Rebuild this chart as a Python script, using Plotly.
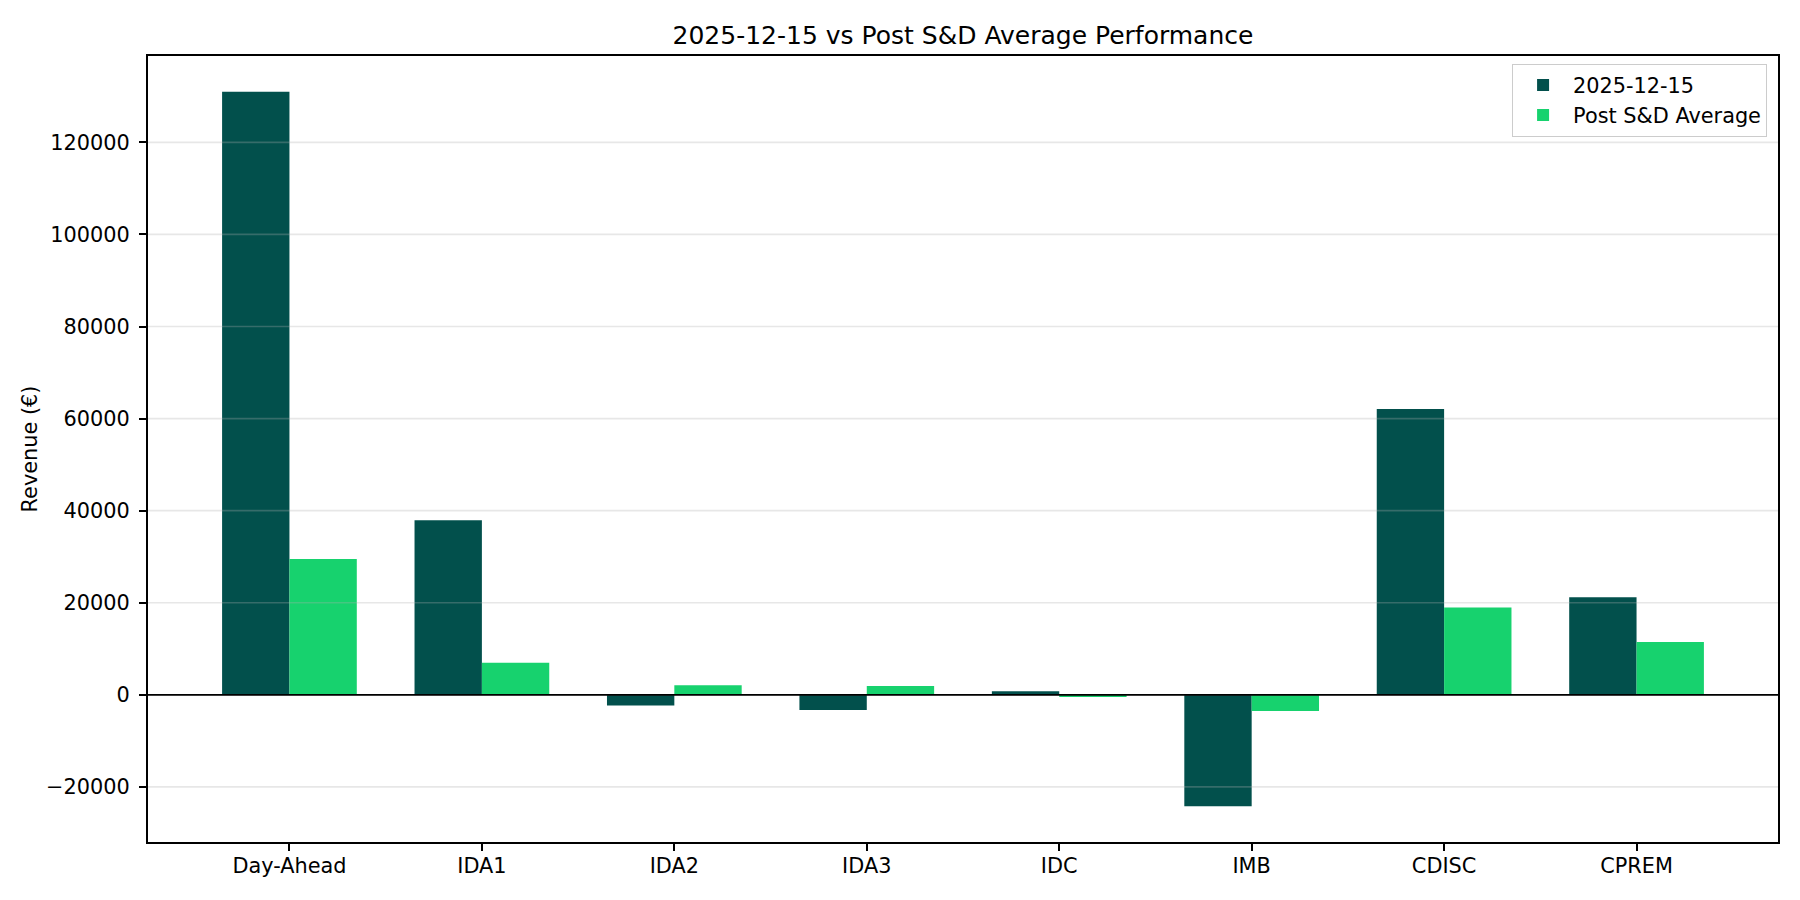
import plotly.graph_objects as go

categories = ["Day-Ahead", "IDA1", "IDA2", "IDA3", "IDC", "IMB", "CDISC", "CPREM"]
day_values = [131000, 37900, -2300, -3300, 800, -24200, 62100, 21200]
avg_values = [29500, 7000, 2100, 1900, -450, -3500, 19000, 11500]
series_names = ["2025-12-15", "Post S&D Average"]
y_ticks = [-20000, 0, 20000, 40000, 60000, 80000, 100000, 120000]
y_tick_labels = ["\u221220000", "0", "20000", "40000", "60000", "80000", "100000", "120000"]

DARK = "#02504C"
GREEN = "#17D26E"
FONT = "DejaVu Sans"
PX = 150 / 72.0

# matplotlib-like 5% margins
allv = day_values + avg_values
lo, hi = min(allv), max(allv)
span = hi - lo
y_range = [lo - 0.05 * span, hi + 0.05 * span]
n = len(categories)
xlo, xhi = -0.35, (n - 1) + 0.35
xs = xhi - xlo
x_range = [xlo - 0.05 * xs, xhi + 0.05 * xs]

fig = go.Figure()
fig.add_trace(go.Bar(x=categories, y=day_values, name=series_names[0],
                     marker=dict(color=DARK, line=dict(width=0))))
fig.add_trace(go.Bar(x=categories, y=avg_values, name=series_names[1],
                     marker=dict(color=GREEN, line=dict(width=0))))

shapes = []
for t in y_ticks:
    shapes.append(dict(type="line", xref="paper", x0=0, x1=1, yref="y", y0=t, y1=t,
                       line=dict(color="rgba(176,176,176,0.3)", width=0.8 * PX),
                       layer="above"))
shapes.append(dict(type="line", xref="paper", x0=0, x1=1, yref="y", y0=0, y1=0,
                   line=dict(color="black", width=0.8 * PX), layer="above"))

fig.update_layout(
    width=1784, height=884, autosize=False,
    margin=dict(l=140, r=14, t=48, b=50, pad=0),
    paper_bgcolor="white", plot_bgcolor="white",
    font=dict(family=FONT, size=10 * PX, color="black"),
    barmode="group", bargap=0.3, bargroupgap=0,
    title=dict(text="2025-12-15 vs Post S&D Average Performance",
               font=dict(family=FONT, size=12 * PX, color="black"),
               x=0.5, xref="paper", xanchor="center",
               y=1, yref="paper", yanchor="bottom", pad=dict(b=12)),
    legend=dict(x=0.9933, xanchor="right", y=0.99, yanchor="top",
                bgcolor="rgba(255,255,255,0.8)", bordercolor="#cccccc", borderwidth=1,
                font=dict(family=FONT, size=10 * PX, color="black"),
                tracegroupgap=0, traceorder="normal", itemwidth=50),
    shapes=shapes,
    showlegend=True,
)
fig.update_xaxes(range=x_range, showgrid=False, zeroline=False,
                 showline=True, mirror=True, linecolor="black", linewidth=0.8 * PX,
                 ticks="outside", ticklen=3.5 * PX, tickwidth=0.8 * PX, tickcolor="black",
                 ticklabelstandoff=-3,
                 tickfont=dict(family=FONT, size=10 * PX, color="black"))
fig.update_yaxes(range=y_range, showgrid=False, zeroline=False,
                 showline=True, mirror=True, linecolor="black", linewidth=0.8 * PX,
                 ticks="outside", ticklen=3.5 * PX, tickwidth=0.8 * PX, tickcolor="black",
                 tickvals=y_ticks, ticktext=y_tick_labels, ticklabelstandoff=5,
                 tickfont=dict(family=FONT, size=10 * PX, color="black"),
                 title=dict(text="Revenue (\u20ac)", standoff=3,
                            font=dict(family=FONT, size=10 * PX, color="black")))

fig.write_html("out.html")
